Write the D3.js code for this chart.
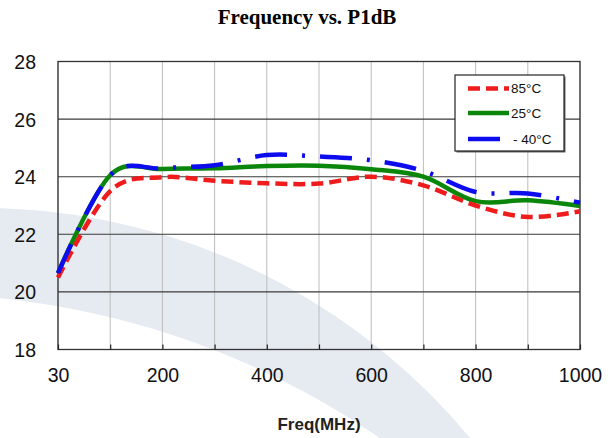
<!DOCTYPE html>
<html>
<head>
<meta charset="utf-8">
<script src="https://cdn.jsdelivr.net/npm/d3@7"></script>
<style>
  html, body { margin: 0; padding: 0; background: #fff; }
  svg { display: block; }
</style>
</head>
<body>
<svg id="chart" width="615" height="438"></svg>
<script>
// ---- data ----
const freqs = ["30", "100", "200", "300", "400", "500", "600", "700", "800", "900", "1000"];
const xLabels = ["30", "200", "400", "600", "800", "1000"];
const yTicks = [18, 20, 22, 24, 26, 28];
const seriesNames = ["85°C", "25°C", "- 40°C"];
const p1dB_85 = [20.5, 23.5, 23.98, 23.86, 23.77, 23.76, 24.0, 23.7, 23.0, 22.6, 22.8];
const p1dB_25 = [20.65, 24.05, 24.27, 24.29, 24.37, 24.38, 24.26, 24.0, 23.15, 23.18, 22.98];
const p1dB_m40 = [20.65, 24.05, 24.29, 24.4, 24.75, 24.7, 24.57, 24.2, 23.47, 23.42, 23.1];

const title = "Frequency vs. P1dB";
const xTitle = "Freq(MHz)";

// ---- layout ----
const W = 615, H = 438;
const plot = { left: 58, right: 580, top: 61.5, bottom: 349.5 };

const svg = d3.select("#chart");

// decorative watermark band (between two circles)
const band = d3.path();
band.moveTo(-19 + 635, 843); band.arc(-19, 843, 635, 0, 2 * Math.PI);
band.moveTo(-83 + 815, 1109); band.arc(-83, 1109, 815, 0, 2 * Math.PI);
svg.append("path").attr("d", band.toString())
  .attr("fill", "#e6eaf1").attr("fill-rule", "evenodd");

const x = d3.scalePoint().domain(freqs).range([plot.left, plot.right]);
const y = d3.scaleLinear().domain([18, 28]).range([plot.bottom, plot.top]);

// vertical gridlines
svg.append("g").selectAll("line").data(freqs).join("line")
  .attr("x1", d => x(d)).attr("x2", d => x(d))
  .attr("y1", plot.top).attr("y2", plot.bottom)
  .attr("stroke", "#bdbdbd").attr("stroke-width", 1);

// horizontal gridlines
svg.append("g").selectAll("line").data(yTicks).join("line")
  .attr("x1", plot.left).attr("x2", plot.right)
  .attr("y1", d => y(d)).attr("y2", d => y(d))
  .attr("stroke", "#3a3a3a").attr("stroke-width", 1.1);

// frame
svg.append("rect")
  .attr("x", plot.left).attr("y", plot.top)
  .attr("width", plot.right - plot.left).attr("height", plot.bottom - plot.top)
  .attr("fill", "none").attr("stroke", "#333").attr("stroke-width", 1.3);

// x axis
const xAxis = d3.axisBottom(x)
  .tickSizeInner(-5).tickSizeOuter(0).tickPadding(18.5)
  .tickFormat(d => xLabels.includes(d) ? d : "");
const gx = svg.append("g").attr("transform", `translate(0,${plot.bottom})`).call(xAxis);
gx.select(".domain").remove();
gx.selectAll(".tick line").attr("stroke", "#222").attr("stroke-width", 1.2);
gx.selectAll(".tick text").attr("font-family", "Liberation Sans, Arial, sans-serif")
  .attr("font-size", "19.5px").attr("fill", "#111");

// y axis
const yAxis = d3.axisLeft(y).tickValues(yTicks).tickSize(0).tickPadding(22).tickFormat(d3.format("d"));
const gy = svg.append("g").attr("transform", `translate(${plot.left},0)`).call(yAxis);
gy.select(".domain").remove();
gy.selectAll(".tick text").attr("font-family", "Liberation Sans, Arial, sans-serif")
  .attr("font-size", "19.5px").attr("fill", "#111").attr("dy", "0.36em");

// series
const series = [
  { name: seriesNames[0], values: p1dB_85, color: "#ee1c1c", dash: "12,6" },
  { name: seriesNames[1], values: p1dB_25, color: "#0a870a", dash: null },
  { name: seriesNames[2], values: p1dB_m40, color: "#0c0cee", dash: "32,15,3,15" }
];
const line = d3.line()
  .x((d, i) => x(freqs[i]))
  .y(d => y(d))
  .curve(d3.curveCatmullRom.alpha(0));

[series[1], series[0], series[2]].forEach(s => {
  svg.append("path")
    .datum(s.values)
    .attr("d", line)
    .attr("fill", "none")
    .attr("stroke", s.color)
    .attr("stroke-width", 4.5)
    .attr("stroke-dasharray", s.dash)
    .attr("stroke-linejoin", "round");
});

// legend
const lg = svg.append("g");
lg.append("rect").attr("x", 456.5).attr("y", 76.5).attr("width", 109).attr("height", 76)
  .attr("fill", "#666");
lg.append("rect").attr("x", 455).attr("y", 75).attr("width", 109).attr("height", 76)
  .attr("fill", "#fff").attr("stroke", "#222").attr("stroke-width", 1.2);
const legendY = [88.5, 113, 139];
series.forEach((s, i) => {
  lg.append("line").attr("x1", 468).attr("x2", 509)
    .attr("y1", legendY[i]).attr("y2", legendY[i])
    .attr("stroke", s.color).attr("stroke-width", 4.5)
    .attr("stroke-dasharray", s.dash);
  lg.append("text").attr("x", i === 2 ? 513 : 511).attr("y", legendY[i] + 4.8)
    .attr("font-family", "Liberation Sans, Arial, sans-serif")
    .attr("font-size", "13.5px").attr("fill", "#111")
    .text(s.name);
});

// titles
svg.append("text").attr("x", 307).attr("y", 24)
  .attr("text-anchor", "middle")
  .attr("font-family", "Liberation Serif, Times New Roman, serif")
  .attr("font-weight", "bold").attr("font-size", "21px").attr("fill", "#000")
  .text(title);

svg.append("text").attr("x", (plot.left + plot.right) / 2).attr("y", 429.5)
  .attr("text-anchor", "middle")
  .attr("font-family", "Liberation Sans, Arial, sans-serif")
  .attr("font-weight", "bold").attr("font-size", "17px").attr("fill", "#222")
  .text(xTitle);
</script>
</body>
</html>
